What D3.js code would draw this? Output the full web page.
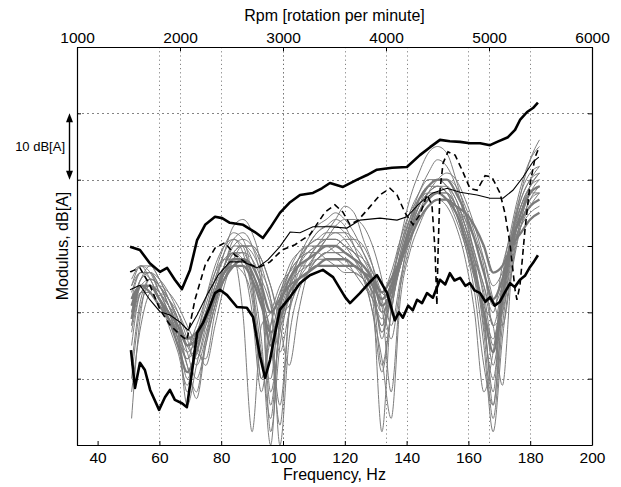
<!DOCTYPE html>
<html>
<head>
<meta charset="utf-8">
<script src="https://cdn.jsdelivr.net/npm/d3@7/dist/d3.min.js"></script>
<style>
  body { margin: 0; background: #fff; }
  svg { font-family: "Liberation Sans", Arial, Helvetica, sans-serif; }
</style>
</head>
<body>
<div id="chart"></div>
<script>
// ---- data ----
var xTicks = [40, 60, 80, 100, 120, 140, 160, 180, 200];
var rpmTicks = [1000, 2000, 3000, 4000, 5000, 6000];
var yTicks = [0, 10, 20, 30, 40, 50, 60];

// common frequency grid for the gray runs
var grayHz = [51,54,57,60,63,66,69,72,75,78,81,84,87,90,93,96,99,102,105,108,111,114,117,120,123,126,129,132,135,138,141,144,147,150,153,156,159,162,165,168,171,174,177,180,183];

var g1  = [22,26,26,24,22,19,15,17,21,26,30,32,31,25,10,18,23,25,28,30,31,32,32,31,29,27,24,17,22,29,34,38,41,43,42,39,34,29,22,12,22,31,37,40,42];
var g2  = [18,24,25,24,21,17,10,14,19,23,27,29,29,26,22,6,18,24,27,29,30,31,31,30,29,27,25,21,8,24,32,36,39,40,40,39,36,32,27,18,20,29,35,39,41];
var g3  = [25,27,26,23,21,19,16,16,18,22,26,28,28,25,22,17,6,20,27,29,29,28,27,26,26,25,23,18,24,30,34,37,39,39,38,35,31,26,19,8,25,33,39,43,45];
var g4  = [15,23,24,23,22,19,15,13,17,22,27,31,32,30,24,2,15,23,27,30,32,33,33,32,30,28,24,12,20,28,33,36,38,39,39,37,33,27,17,4,18,28,34,38,39];
var g5  = [21,25,27,25,22,18,12,8,16,22,27,30,30,28,23,16,3,20,26,28,30,32,34,36,35,31,27,20,22,27,32,35,37,38,38,36,33,29,24,20,27,32,36,38,38];
var g6  = [12,22,25,24,21,17,13,17,20,25,28,29,27,20,8,18,23,26,28,29,30,30,29,28,26,24,22,19,25,30,35,38,40,40,39,37,33,28,23,15,23,30,35,38,39];
var g7  = [24,26,25,22,20,16,8,15,20,25,29,31,30,25,16,0,20,26,29,30,30,30,30,29,28,26,22,2,21,28,32,36,38,39,38,36,32,26,20,6,21,30,36,39,41];
var g8  = [19,24,24,22,19,15,11,14,19,23,26,27,27,25,21,17,19,23,25,26,27,28,28,28,27,26,24,22,24,28,33,37,39,40,40,38,35,31,26,22,25,31,34,36,37];
var g9  = [4,20,25,24,22,20,17,14,13,20,25,28,29,28,25,21,14,20,25,28,30,31,31,30,28,25,20,11,20,28,33,37,39,40,39,36,31,25,15,2,16,27,34,38,40];
var g10 = [26,27,25,22,18,14,9,16,22,27,30,31,29,23,13,10,22,27,29,30,31,31,31,30,29,28,26,23,26,31,35,37,38,38,37,34,30,25,20,16,23,31,38,43,46];
var g11 = [17,23,24,23,21,18,15,18,22,26,28,28,20,2,18,20,24,26,27,27,28,29,30,31,31,30,27,23,22,27,31,34,36,37,37,36,34,31,28,24,26,30,33,35,36];
var g12 = [20,25,26,24,21,17,6,12,18,24,29,33,34,32,26,8,17,24,28,31,33,34,35,34,32,29,25,16,24,31,37,41,44,45,44,40,35,28,18,10,22,32,38,41,42];
var g13 = [22,24,23,21,19,17,16,17,19,22,25,27,28,27,24,20,22,24,25,26,27,27,27,27,27,26,25,23,25,28,31,34,36,37,37,36,35,33,30,26,27,30,32,34,35];
var g14 = [10,21,24,23,20,16,12,7,15,21,26,29,30,29,26,22,0,16,23,26,28,29,29,28,27,25,22,18,22,27,32,36,38,39,38,35,30,23,12,6,20,29,35,38,39];
var g15 = [23,26,26,23,20,17,14,16,20,24,27,30,31,30,27,22,18,22,25,27,29,31,33,34,34,33,30,25,18,25,31,35,37,38,37,35,32,28,24,18,24,31,36,39,40];
var g16 = [18,23,23,21,19,16,13,15,19,23,27,29,28,24,14,4,19,24,26,27,28,28,28,27,26,25,23,20,23,27,32,35,37,38,38,36,32,27,21,18,9,26,33,37,38];
var g17 = [20,25,26,25,23,20,16,12,16,21,26,29,30,30,28,24,20,21,24,26,28,29,29,29,28,26,23,17,23,29,34,37,39,40,40,38,35,31,26,21,24,29,33,36,38];
var g18 = [21,24,24,22,20,18,15,16,19,23,26,28,28,26,22,15,21,25,27,28,29,30,30,29,28,27,25,21,23,28,32,35,37,38,37,35,31,26,20,14,22,30,35,38,39];
var g19 = [8,18,23,24,23,21,18,15,12,18,24,28,30,30,28,24,18,12,20,26,29,31,32,32,31,29,26,22,16,24,30,35,38,40,41,40,37,33,28,22,18,26,33,37,39];
var g20 = [24,27,27,25,22,19,14,10,15,21,25,27,26,22,10,16,22,26,28,30,32,33,34,33,30,26,20,13,4,22,29,33,36,37,36,33,28,20,8,14,24,32,37,40,41];

var grayThin = [g1, g2, g3, g4, g5, g6, g7, g9, g10, g11, g12, g14, g15, g16, g17, g19, g20];
var grayThick = [g8, g13, g18];

// thick black, upper envelope
var topHz = [50.5,53.7,56.9,60.2,62.5,65.0,67.3,69.9,72.2,74.8,78.0,80.3,82.8,87.1,90.9,93.5,95.8,99.0,102.3,105.5,109.7,112.6,115.2,119.4,124.0,127.2,130.4,135.3,140.1,144.3,147.6,150.8,154.0,157.3,160.5,163.8,167.0,169.3,172.8,175.1,176.7,179.0,180.9,182.5];
var topDb = [29.9,29.4,27.4,26.1,26.7,24.9,23.5,26.4,30.9,33.2,34.4,34.2,33.5,33.2,32.1,31.2,32.7,35.0,36.6,37.7,38.0,38.7,39.5,38.9,40.0,40.7,41.5,41.8,41.9,43.7,44.9,46.0,45.8,45.7,45.5,45.5,45.2,45.7,46.4,47.5,49.0,50.2,50.8,51.6];

// thick black, lower run
var lowHz = [50.8,52.1,53.7,55.3,57.0,59.9,61.8,63.4,65.0,67.3,68.9,70.5,72.2,74.1,76.0,78.0,79.6,81.9,85.1,88.3,90.3,92.6,94.2,95.8,97.5,99.0,102.3,105.5,108.7,112.9,116.2,120.1,121.7,124.9,128.0,130.4,133.7,136.2,137.5,138.8,140.5,142.0,143.4,145.0,146.6,148.5,150.8,152.5,154.0,155.5,157.3,159.0,160.5,162.0,163.8,165.5,167.0,168.5,170.2,171.8,173.5,175.0,176.7,178.3,179.9,181.0,182.5];
var lowDb = [14.3,8.6,12.4,11.3,8.3,5.3,7.2,8.3,6.8,6.3,5.7,10.9,16.9,18.4,20.5,22.9,23.4,22.6,20.8,20.7,19.3,13.3,10.1,12.8,17.0,20.4,22.3,24.4,25.6,26.4,25.3,22.3,21.4,22.9,24.5,25.6,22.9,18.8,20.0,19.2,21.0,20.3,21.9,21.4,22.9,22.2,24.9,24.2,25.9,24.8,25.2,24.0,24.4,23.3,22.9,21.6,22.3,21.0,21.6,23.0,24.4,23.8,24.9,25.5,26.8,27.5,28.6];

// dashed black
var dashHz = [50.5,53.7,56.9,60.2,63.4,66.7,68.9,71.5,74.8,78.0,81.2,84.5,87.7,91.9,95.8,99.7,103.9,108.7,113.6,116.8,119.4,121.7,124.3,127.2,131.4,134.6,136.9,139.5,142.1,144.3,146.6,148.2,149.2,149.8,150.2,150.8,151.8,153.4,155.7,157.9,160.5,162.8,165.4,167.6,170.2,171.8,173.5,175.1,175.7,176.7,178.3,179.9,181.6,182.8];
var dashDb = [26.1,26.7,24.1,20.4,18.1,16.6,15.8,21.9,27.1,29.7,30.5,28.6,27.6,26.7,27.6,29.4,30.2,31.7,35.1,36.2,35.1,33.2,33.9,35.4,37.7,38.7,37.7,35.0,33.2,34.7,37.7,36.2,29.4,21.1,29.4,38.4,42.5,44.2,43.7,41.5,38.7,38.4,40.6,40.4,38.0,35.0,30.2,23.4,21.9,24.1,32.4,39.2,43.4,44.8];

// thin black
var thinHz = [50.5,53.7,56.9,60.2,63.4,66.7,69.3,72.2,75.4,79.0,82.8,87.1,91.6,95.1,99.0,102.3,105.5,109.7,115.2,120.7,124.9,131.4,136.9,140.1,144.3,148.5,153.1,157.3,162.8,167.0,171.2,174.4,177.7,180.9,182.8];
var thinDb = [23.4,24.1,21.9,20.1,19.6,18.5,17.3,19.6,22.6,25.6,27.6,27.6,26.7,27.9,29.9,32.1,32.0,32.9,32.9,32.7,33.9,34.2,33.9,34.4,36.5,38.0,38.7,38.1,37.7,37.2,37.2,38.4,40.4,42.7,43.4];

// ---- layout ----
var width = 621, height = 487;
var pLeft = 77, pRight = 592, pTop = 47, pBottom = 445;

var svg = d3.select("#chart").append("svg")
    .attr("width", width)
    .attr("height", height);

var x = d3.scaleLinear().domain([1000 / 30, 200]).range([pLeft, pRight]);
var xr = d3.scaleLinear().domain([1000, 6000]).range([pLeft, pRight]);
var y = d3.scaleLinear().domain([0, 60]).range([pBottom, pTop]);

svg.append("clipPath").attr("id", "plot")
  .append("rect")
    .attr("x", pLeft).attr("y", pTop)
    .attr("width", pRight - pLeft).attr("height", pBottom - pTop);

// grid
var grid = svg.append("g").attr("class", "grid")
    .attr("stroke", "#666")
    .attr("stroke-width", 0.8)
    .attr("stroke-dasharray", "1.2,3");

grid.selectAll(".vx")
    .data(xTicks.slice(1, -1)).enter().append("line")
    .attr("x1", function (d) { return Math.round(x(d)) + 0.5; })
    .attr("x2", function (d) { return Math.round(x(d)) + 0.5; })
    .attr("y1", pTop).attr("y2", pBottom);

grid.selectAll(".vr")
    .data(rpmTicks.slice(1, -1)).enter().append("line")
    .attr("x1", function (d) { return Math.round(xr(d)) + 0.5; })
    .attr("x2", function (d) { return Math.round(xr(d)) + 0.5; })
    .attr("y1", pTop).attr("y2", pBottom);

grid.selectAll(".hy")
    .data(yTicks.slice(1, -1)).enter().append("line")
    .attr("y1", function (d) { return Math.round(y(d)) + 0.5; })
    .attr("y2", function (d) { return Math.round(y(d)) + 0.5; })
    .attr("x1", pLeft).attr("x2", pRight)
    .attr("stroke-dasharray", "2,3");

// lines
var lines = svg.append("g").attr("clip-path", "url(#plot)");

var grayLine = d3.line()
    .x(function (d, i) { return x(grayHz[i]); })
    .y(function (d) { return y(d); })
    .curve(d3.curveMonotoneX);

lines.selectAll(".gt")
    .data(grayThin).enter().append("path")
    .attr("d", grayLine)
    .attr("fill", "none")
    .attr("stroke", "#7d7d7d")
    .attr("stroke-width", 1);

lines.selectAll(".gk")
    .data(grayThick).enter().append("path")
    .attr("d", grayLine)
    .attr("fill", "none")
    .attr("stroke", "#7a7a7a")
    .attr("stroke-width", 2.3);

function pairLine(hz, db) {
  return d3.line()
      .x(function (d, i) { return x(hz[i]); })
      .y(function (d) { return y(d); })(db);
}

lines.append("path")
    .attr("d", pairLine(thinHz, thinDb))
    .attr("fill", "none").attr("stroke", "#000").attr("stroke-width", 1.1);

lines.append("path")
    .attr("d", pairLine(dashHz, dashDb))
    .attr("fill", "none").attr("stroke", "#000").attr("stroke-width", 1.6)
    .attr("stroke-dasharray", "6,4");

lines.append("path")
    .attr("d", pairLine(topHz, topDb))
    .attr("fill", "none").attr("stroke", "#000").attr("stroke-width", 2.6)
    .attr("stroke-linejoin", "round");

lines.append("path")
    .attr("d", pairLine(lowHz, lowDb))
    .attr("fill", "none").attr("stroke", "#000").attr("stroke-width", 2.6)
    .attr("stroke-linejoin", "round");

// axes
svg.append("g")
    .attr("transform", "translate(0," + pBottom + ")")
    .call(d3.axisBottom(x).tickValues(xTicks).tickSizeInner(-4).tickSizeOuter(0).tickPadding(7))
    .call(styleAxis);

svg.append("g")
    .attr("transform", "translate(0," + pTop + ")")
    .call(d3.axisTop(xr).tickValues(rpmTicks).tickFormat(d3.format("d"))
      .tickSizeInner(-4).tickSizeOuter(0).tickPadding(4))
    .call(styleAxis);

svg.append("g")
    .attr("transform", "translate(" + pLeft + ",0)")
    .call(d3.axisLeft(y).tickValues(yTicks).tickSizeInner(-4).tickSizeOuter(0).tickFormat(""))
    .call(styleAxis);

svg.append("g")
    .attr("transform", "translate(" + pRight + ",0)")
    .call(d3.axisRight(y).tickValues(yTicks).tickSizeInner(-4).tickSizeOuter(0).tickFormat(""))
    .call(styleAxis);

function styleAxis(g) {
  g.select(".domain").attr("stroke", "#000").attr("stroke-width", 1.2);
  g.selectAll(".tick line").attr("stroke", "#000");
  g.selectAll(".tick text").attr("fill", "#000").attr("font-size", 15.5)
      .attr("font-family", "'Liberation Sans', Arial, sans-serif");
}

// titles
svg.append("text")
    .attr("x", (pLeft + pRight) / 2).attr("y", 480)
    .attr("text-anchor", "middle").attr("font-size", 16)
    .text("Frequency, Hz");

svg.append("text")
    .attr("x", (pLeft + pRight) / 2).attr("y", 21)
    .attr("text-anchor", "middle").attr("font-size", 16)
    .text("Rpm [rotation per minute]");

svg.append("text")
    .attr("transform", "translate(68," + ((pTop + pBottom) / 2) + ") rotate(-90)")
    .attr("text-anchor", "middle").attr("font-size", 16)
    .text("Modulus, dB[A]");

// 10 dB scale arrow
var ax = 69.5, ay1 = y(50), ay2 = y(40);
svg.append("line")
    .attr("x1", ax).attr("x2", ax)
    .attr("y1", ay1 + 6).attr("y2", ay2 - 6)
    .attr("stroke", "#000").attr("stroke-width", 1.4);
svg.append("path")
    .attr("d", "M" + ax + "," + ay1 + "L" + (ax - 3.5) + "," + (ay1 + 9) + "L" + (ax + 3.5) + "," + (ay1 + 9) + "Z")
    .attr("fill", "#000");
svg.append("path")
    .attr("d", "M" + ax + "," + ay2 + "L" + (ax - 3.5) + "," + (ay2 - 9) + "L" + (ax + 3.5) + "," + (ay2 - 9) + "Z")
    .attr("fill", "#000");
svg.append("text")
    .attr("x", 65).attr("y", (ay1 + ay2) / 2 + 4.5)
    .attr("text-anchor", "end").attr("font-size", 13)
    .text("10 dB[A]");
</script>
</body>
</html>
